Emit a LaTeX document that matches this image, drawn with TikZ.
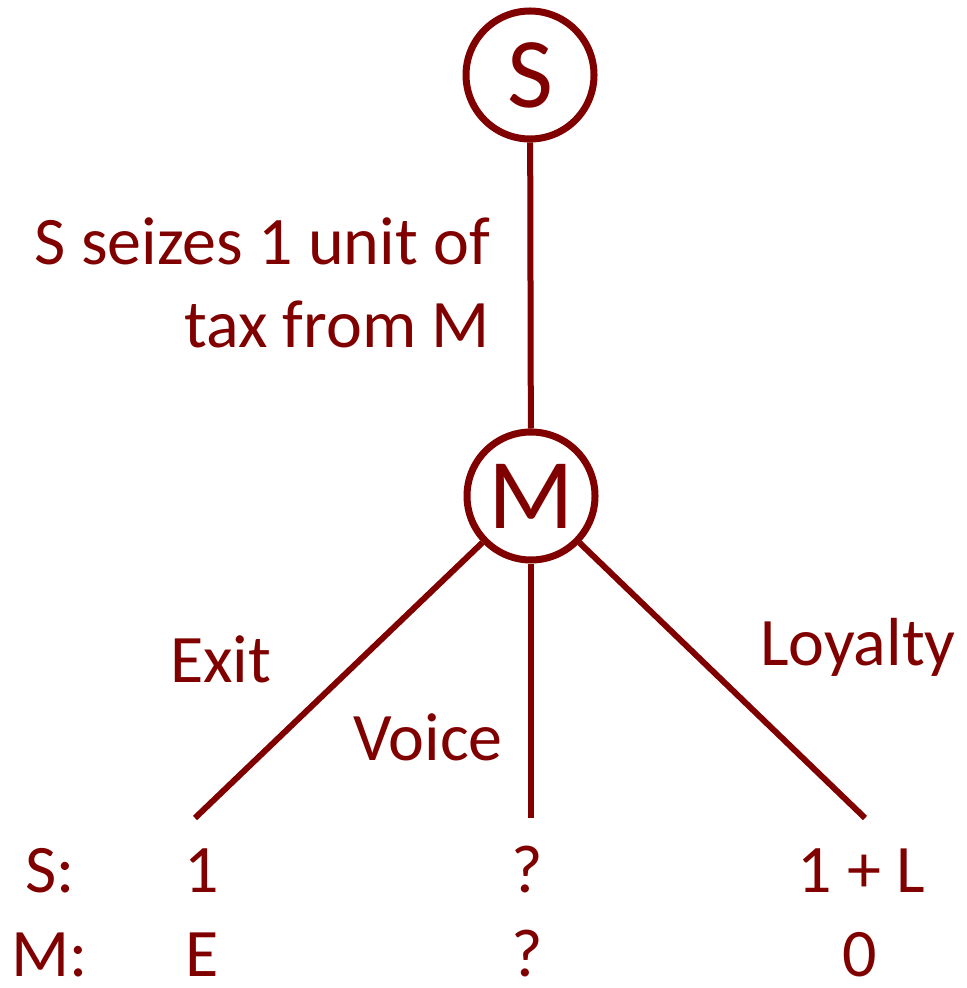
\documentclass[tikz,border=0pt]{standalone}
\usepackage{fontspec}
\setmainfont{Carlito}
\definecolor{maroon}{HTML}{800000}
\begin{document}
\begin{tikzpicture}[x=0.5pt, y=-0.5pt, color=maroon, line width=3pt,
    player/.style={circle, draw, line width=3.5pt, fill=white, minimum size=64pt, inner sep=0pt, font=\fontsize{50}{54}\selectfont},
    lbl/.style={font=\fontsize{34}{38}\selectfont, inner sep=0pt}]
    \useasboundingbox (0,0) rectangle (966,988);
    \node[player] (s) at (530,75) {S};
    \node[player] (m) at (531,496) {M};
    \coordinate (exit) at (195,818);
    \coordinate (voice) at (531,818);
    \coordinate (loyal) at (865,818);

    \draw (s) -- (m);
    \draw (m) -- (exit);
    \draw (m) -- (voice);
    \draw (m) -- (loyal);

    \node[lbl, anchor=base east] (seize1) at (493,265) {S seizes 1 unit of};
    \node[lbl, anchor=base east] (seize2) at (493,348) {tax from M};
    \node[lbl, anchor=base west] (exitl) at (167,682) {Exit};
    \node[lbl, anchor=base west] (voicel) at (350,760) {Voice};
    \node[lbl, anchor=base west] (loyall) at (757,665) {Loyalty};

    \node[lbl, anchor=base] (srow) at (50,892) {S:};
    \node[lbl, anchor=base] (mrow) at (50,976) {M:};
    \node[lbl, anchor=base] (s1) at (202,892) {1};
    \node[lbl, anchor=base] (s2) at (527,892) {?};
    \node[lbl, anchor=base] (s3) at (861,892) {1 + L};
    \node[lbl, anchor=base] (m1) at (202,976) {E};
    \node[lbl, anchor=base] (m2) at (527,976) {?};
    \node[lbl, anchor=base] (m3) at (860,976) {0};
  \end{tikzpicture}
\end{document}
